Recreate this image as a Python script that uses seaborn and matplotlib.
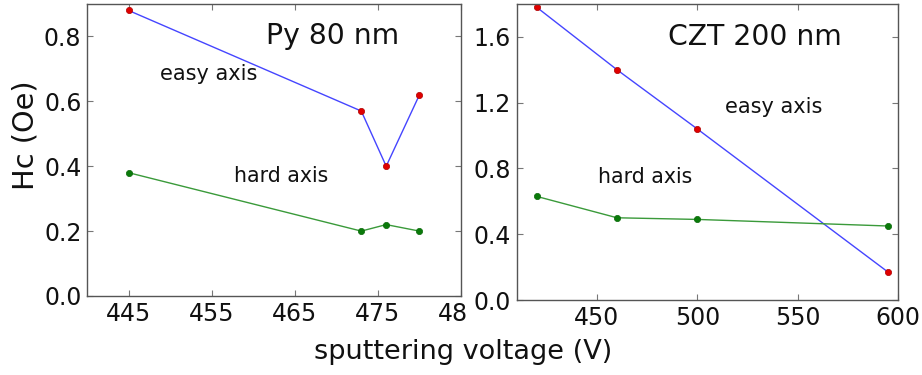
import matplotlib
matplotlib.use("Agg")
import matplotlib.pyplot as plt
from matplotlib.transforms import Bbox, TransformedBbox
import seaborn as sns
import pandas as pd

sns.set_style("ticks")
plt.rcParams['font.family'] = ['DejaVu Sans']

# Py 80 nm
py_voltage = [445, 473, 476, 480]
py_easy = [0.88, 0.57, 0.40, 0.62]
py_hard = [0.38, 0.20, 0.22, 0.20]
# CZT 200 nm
czt_voltage = [420, 460, 500, 595]
czt_easy = [1.78, 1.40, 1.04, 0.17]
czt_hard = [0.63, 0.50, 0.49, 0.45]

py_yticks = [0.0, 0.2, 0.4, 0.6, 0.8]
py_xticks = [445, 455, 465, 475, 485]
czt_yticks = [0.0, 0.4, 0.8, 1.2, 1.6]
czt_xticks = [450, 500, 550, 600]

fig = plt.figure(figsize=(9.22, 3.75), dpi=100)
ax1 = fig.add_axes([0.0944, 0.2107, 0.4056, 0.7787])
ax2 = fig.add_axes([0.5604, 0.2000, 0.4136, 0.7893])

easy_kw = dict(color='#4545ff', linewidth=1.0, marker='o', markersize=4.5,
               markerfacecolor='#e00000', markeredgecolor='#b00000', markeredgewidth=0.5)
hard_kw = dict(color='#3a9a3a', linewidth=1.0, marker='o', markersize=4.5,
               markerfacecolor='#0a7a0a', markeredgecolor='#0a6a0a', markeredgewidth=0.5)

for ax, xs, ye, yh in [(ax1, py_voltage, py_easy, py_hard),
                       (ax2, czt_voltage, czt_easy, czt_hard)]:
    df = pd.DataFrame({'v': xs, 'easy': ye, 'hard': yh})
    sns.lineplot(data=df, x='v', y='easy', ax=ax, **easy_kw)
    sns.lineplot(data=df, x='v', y='hard', ax=ax, **hard_kw)
    ax.set_xlabel('')
    ax.set_ylabel('')
    for s in ax.spines.values():
        s.set_visible(True)
        s.set_color('#555555')
        s.set_linewidth(1.0)
    ax.tick_params(direction='in', length=4, width=0.8, color='#777777',
                   top=True, right=True, labelsize=17, labelcolor='#111111')
    ax.tick_params(axis='y', pad=4)
    ax.tick_params(axis='x', pad=4)

ax1.set_xlim(440, 485)
ax1.set_ylim(0, 0.9)
ax1.set_xticks(py_xticks)
ax1.set_yticks(py_yticks)
ax1.set_yticklabels([f"{v:.1f}" for v in py_yticks])
ax1.set_xticklabels([str(v) for v in py_xticks])
clipbox = TransformedBbox(Bbox([[0, 0], [466 / 922, 1]]), fig.transFigure)
for lab in ax1.get_xticklabels():
    lab.set_clip_box(clipbox)
    lab.set_clip_on(True)

ax2.set_xlim(410, 600)
ax2.set_ylim(0, 1.8)
ax2.set_xticks(czt_xticks)
ax2.set_yticks(czt_yticks)
ax2.set_yticklabels([f"{v:.1f}" for v in czt_yticks])

ax1.text(461.5, 0.80, 'Py 80 nm', fontsize=20.3, va='center', ha='left', color='#111111')
ax1.text(448.8, 0.683, 'easy axis', fontsize=15, va='center', ha='left', color='#111111')
ax1.text(457.7, 0.369, 'hard axis', fontsize=14.8, va='center', ha='left', color='#111111')
ax2.text(485.4, 1.60, 'CZT 200 nm', fontsize=20.3, va='center', ha='left', color='#111111')
ax2.text(513.8, 1.176, 'easy axis', fontsize=15, va='center', ha='left', color='#111111')
ax2.text(450.4, 0.75, 'hard axis', fontsize=14.8, va='center', ha='left', color='#111111')

fig.text(0.502, 0.062, 'sputtering voltage (V)', fontsize=19.5, ha='center', va='center', color='#111111')
fig.text(0.028, 0.64, 'Hc (Oe)', fontsize=20.7, ha='center', va='center', rotation=90, color='#111111')

fig.savefig('out.png', dpi=100)
